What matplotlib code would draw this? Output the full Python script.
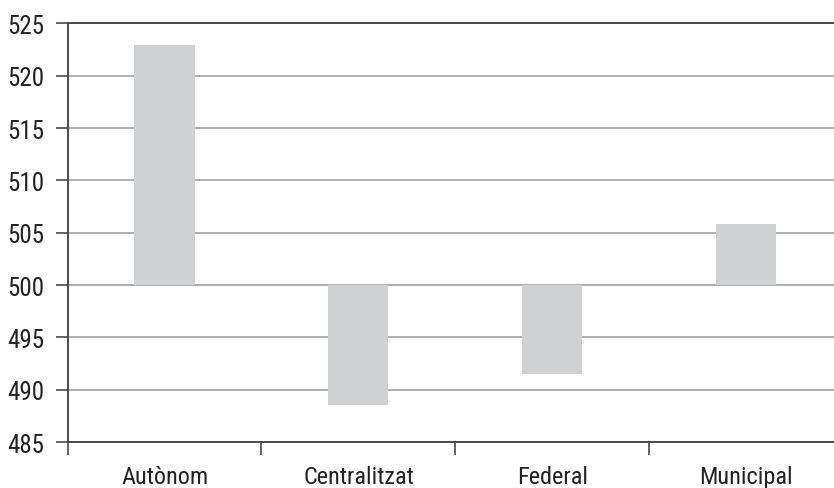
import matplotlib
matplotlib.use("Agg")
import matplotlib.pyplot as plt
from matplotlib.ticker import FixedLocator, NullFormatter

plt.rcParams['font.family'] = ['Liberation Sans Narrow', 'Roboto Condensed', 'Archivo Narrow', 'DejaVu Sans']

categories = ['Autònom', 'Centralitzat', 'Federal', 'Municipal']
scores = [522.95, 488.5, 491.5, 505.8]
baseline = 500
y_ticks = [485, 490, 495, 500, 505, 510, 515, 520, 525]

bar_color = '#d0d1d3'
grid_color = '#a8a8a8'
axis_color = '#4a4a4a'

fig = plt.figure(figsize=(8.34, 4.89), dpi=100)
ax = fig.add_axes([0.081, 0.094, 0.930, 0.856])

# floating bars measured from the 500 baseline
centers = [i + 0.5 for i in range(len(categories))]
heights = [s - baseline for s in scores]
ax.bar(centers, heights, bottom=baseline, width=0.31, color=bar_color, zorder=2)

ax.set_xlim(0, len(categories))
ax.set_ylim(y_ticks[0], y_ticks[-1])
ax.set_yticks(y_ticks)
ax.yaxis.grid(True, color=grid_color, linewidth=1.3, zorder=0)
ax.set_axisbelow(True)

# category boundaries get tick marks, names sit between them
ax.xaxis.set_major_locator(FixedLocator(range(len(categories) + 1)))
ax.xaxis.set_major_formatter(NullFormatter())
ax.xaxis.set_minor_locator(FixedLocator(centers))
ax.set_xticklabels(categories, minor=True)
ax.tick_params(axis='x', which='major', length=9, width=1.2, color=axis_color, direction='out')
ax.tick_params(axis='x', which='minor', length=0, pad=16.5, labelsize=17.5, labelcolor='#222222')
ax.tick_params(axis='y', length=9, width=1.2, color=axis_color, direction='out',
               pad=8, labelsize=18, labelcolor='#222222')

for side in ['left', 'bottom', 'top']:
    ax.spines[side].set_color(axis_color)
    ax.spines[side].set_linewidth(1.4)
ax.spines['right'].set_visible(False)

fig.savefig('out.png', dpi=100)
